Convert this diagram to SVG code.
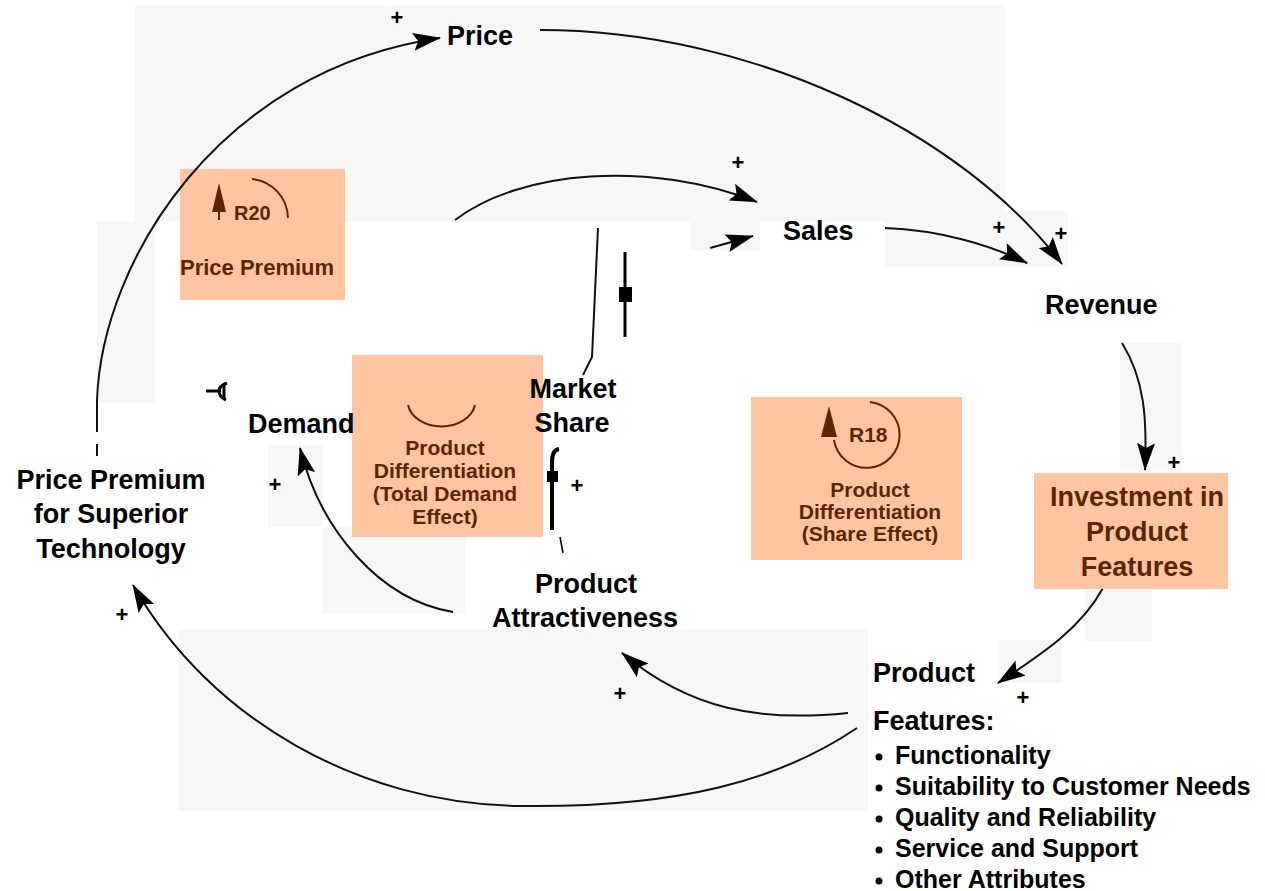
<svg xmlns="http://www.w3.org/2000/svg" width="1265" height="891" viewBox="0 0 1265 891">
<defs>
<style>
.lbl{font-family:"Liberation Sans",Arial,sans-serif;font-weight:bold;font-size:27px;fill:#000}
.bl{font-family:"Liberation Sans",Arial,sans-serif;font-weight:bold;font-size:25px;fill:#000}
.br{font-family:"Liberation Sans",Arial,sans-serif;font-weight:bold;font-size:21px;fill:#5a2600}
.brl{font-family:"Liberation Sans",Arial,sans-serif;font-weight:bold;font-size:27px;fill:#5a2600}
.pl{font-family:"Liberation Sans",Arial,sans-serif;font-weight:bold;font-size:22px;fill:#000}
.c{fill:none;stroke:#111;stroke-width:2}
.g{fill:#f7f7f7}
.box{fill:#fec5a0}
</style>
<marker id="ah" viewBox="0 0 28 18" refX="27" refY="9" markerWidth="28" markerHeight="18" orient="auto" markerUnits="userSpaceOnUse">
<path d="M0,0 L28,9 L0,18 L5,9 z" fill="#000"/>
</marker>
</defs>
<rect width="1265" height="891" fill="#fff"/>
<g id="background">
<rect class="g" x="135" y="6" width="870" height="216"/>
<rect class="g" x="690" y="210" width="70" height="40"/>
<rect class="g" x="885" y="210" width="183" height="56"/>
<rect class="g" x="97" y="222" width="58" height="180"/>
<rect class="g" x="1120" y="343" width="62" height="128"/>
<rect class="g" x="268" y="445" width="55" height="82"/>
<rect class="g" x="322" y="527" width="143" height="86"/>
<rect class="g" x="1085" y="589" width="67" height="52"/>
<rect class="g" x="998" y="640" width="64" height="43"/>
<rect class="g" x="178" y="630" width="690" height="181"/>
</g>
<g id="loops">
<g id="R20">
<rect class="box" x="180" y="169" width="165" height="131"/>
<path d="M252,179 A40,40 0 0 1 288,218" fill="none" stroke="#5a2600" stroke-width="2"/>
<path d="M219,183 L226,212 L212,212 z" fill="#5a2600"/>
<line x1="219" y1="210" x2="219" y2="220" stroke="#5a2600" stroke-width="2"/>
<text class="br" x="234" y="220" style="font-size:20px">R20</text>
<text class="br" x="180" y="275" style="font-size:22px">Price Premium</text>
</g>
<g id="TotalDemand">
<rect class="box" x="352" y="355" width="191" height="182"/>
<path d="M408,405 A34,26 0 0 0 475,405" fill="none" stroke="#5a2600" stroke-width="2"/>
<text class="br" text-anchor="middle" x="445" y="455">Product</text>
<text class="br" text-anchor="middle" x="445" y="478">Differentiation</text>
<text class="br" text-anchor="middle" x="445" y="501">(Total Demand</text>
<text class="br" text-anchor="middle" x="445" y="524">Effect)</text>
</g>
<g id="R18">
<rect class="box" x="751" y="397" width="211" height="163"/>
<path d="M870,402 A33,33 0 1 1 834,440" fill="none" stroke="#5a2600" stroke-width="2"/>
<path d="M829,406 L837,437 L821,437 z" fill="#5a2600"/>
<text class="br" x="849" y="442">R18</text>
<text class="br" text-anchor="middle" x="870" y="497">Product</text>
<text class="br" text-anchor="middle" x="870" y="519">Differentiation</text>
<text class="br" text-anchor="middle" x="870" y="541">(Share Effect)</text>
</g>
</g>
<g id="connectors">
<path class="c" d="M97,400 C102,260 220,70 440,38" marker-end="url(#ah)"/>
<line class="c" x1="97" y1="400" x2="97" y2="432"/>
<line class="c" x1="97" y1="444" x2="97" y2="456"/>
<path class="c" d="M540,30 C750,30 960,130 1062,264" marker-end="url(#ah)"/>
<path class="c" d="M885,228 C940,230 990,245 1027,263" marker-end="url(#ah)"/>
<path class="c" d="M455,220 C520,170 650,160 757,202" marker-end="url(#ah)"/>
<path class="c" d="M710,248 L753,236" marker-end="url(#ah)"/>
<path class="c" d="M1122,343 C1145,380 1147,420 1145,470" marker-end="url(#ah)"/>
<path class="c" d="M1103,588 C1080,630 1040,655 998,683" marker-end="url(#ah)"/>
<path class="c" d="M848,713 C760,722 690,710 622,653" marker-end="url(#ah)"/>
<path class="c" d="M453,612 C380,600 320,530 300,448" marker-end="url(#ah)"/>
<path class="c" d="M857,728 C780,780 680,808 520,806 C360,804 210,720 133,585" marker-end="url(#ah)"/>
<path class="c" d="M598,228 L592,357 L583,375"/>
<line x1="625" y1="252" x2="625" y2="337" stroke="#000" stroke-width="3"/>
<rect x="619" y="287" width="13" height="15" fill="#000"/>
<path d="M552,530 L552,462 Q552,450 559,449" fill="none" stroke="#000" stroke-width="4"/>
<rect x="547" y="471" width="11" height="11" fill="#000"/>
<line x1="560" y1="537" x2="563" y2="553" stroke="#000" stroke-width="1.5"/>
<line x1="206" y1="391" x2="221" y2="391" stroke="#000" stroke-width="3"/>
<path d="M227,383 Q219,386 219,391 Q219,397 226,400" fill="none" stroke="#000" stroke-width="3"/>
<line x1="224" y1="384" x2="224" y2="398" stroke="#000" stroke-width="3"/>
</g>
<g id="polarities">
<text class="pl" text-anchor="middle" x="397" y="25">+</text>
<text class="pl" text-anchor="middle" x="738" y="170">+</text>
<text class="pl" text-anchor="middle" x="999" y="235">+</text>
<text class="pl" text-anchor="middle" x="1061" y="241">+</text>
<text class="pl" text-anchor="middle" x="1174" y="470">+</text>
<text class="pl" text-anchor="middle" x="1023" y="705">+</text>
<text class="pl" text-anchor="middle" x="620" y="701">+</text>
<text class="pl" text-anchor="middle" x="122" y="622">+</text>
<text class="pl" text-anchor="middle" x="275" y="492">+</text>
<text class="pl" text-anchor="middle" x="577" y="493">+</text>
</g>
<g id="node-price"><text class="lbl" x="447" y="45">Price</text></g>
<g id="node-sales"><text class="lbl" x="783" y="240">Sales</text></g>
<g id="node-revenue"><text class="lbl" x="1045" y="314">Revenue</text></g>
<g id="node-demand"><text class="lbl" x="248" y="433">Demand</text></g>
<g id="node-marketshare">
<text class="lbl" text-anchor="middle" x="573" y="398">Market</text>
<text class="lbl" text-anchor="middle" x="572" y="432">Share</text>
</g>
<g id="node-attractiveness">
<text class="lbl" text-anchor="middle" x="586" y="593">Product</text>
<text class="lbl" text-anchor="middle" x="585" y="627">Attractiveness</text>
</g>
<g id="node-pricepremium">
<text class="lbl" text-anchor="middle" x="111" y="489">Price Premium</text>
<text class="lbl" text-anchor="middle" x="111" y="523">for Superior</text>
<text class="lbl" text-anchor="middle" x="111" y="558">Technology</text>
</g>
<g id="node-investment">
<rect class="box" x="1034" y="473" width="194" height="116"/>
<text class="brl" text-anchor="middle" x="1137" y="506">Investment in</text>
<text class="brl" text-anchor="middle" x="1137" y="541">Product</text>
<text class="brl" text-anchor="middle" x="1137" y="576">Features</text>
</g>
<g id="node-features">
<text class="lbl" x="873" y="682">Product</text>
<text class="lbl" x="873" y="730">Features:</text>
<circle cx="879" cy="757" r="3.5"/>
<circle cx="879" cy="788" r="3.5"/>
<circle cx="879" cy="819" r="3.5"/>
<circle cx="879" cy="850" r="3.5"/>
<circle cx="879" cy="881" r="3.5"/>
<text class="bl" x="895" y="764">Functionality</text>
<text class="bl" x="895" y="795">Suitability to Customer Needs</text>
<text class="bl" x="895" y="826">Quality and Reliability</text>
<text class="bl" x="895" y="857">Service and Support</text>
<text class="bl" x="895" y="888">Other Attributes</text>
</g>
</svg>
